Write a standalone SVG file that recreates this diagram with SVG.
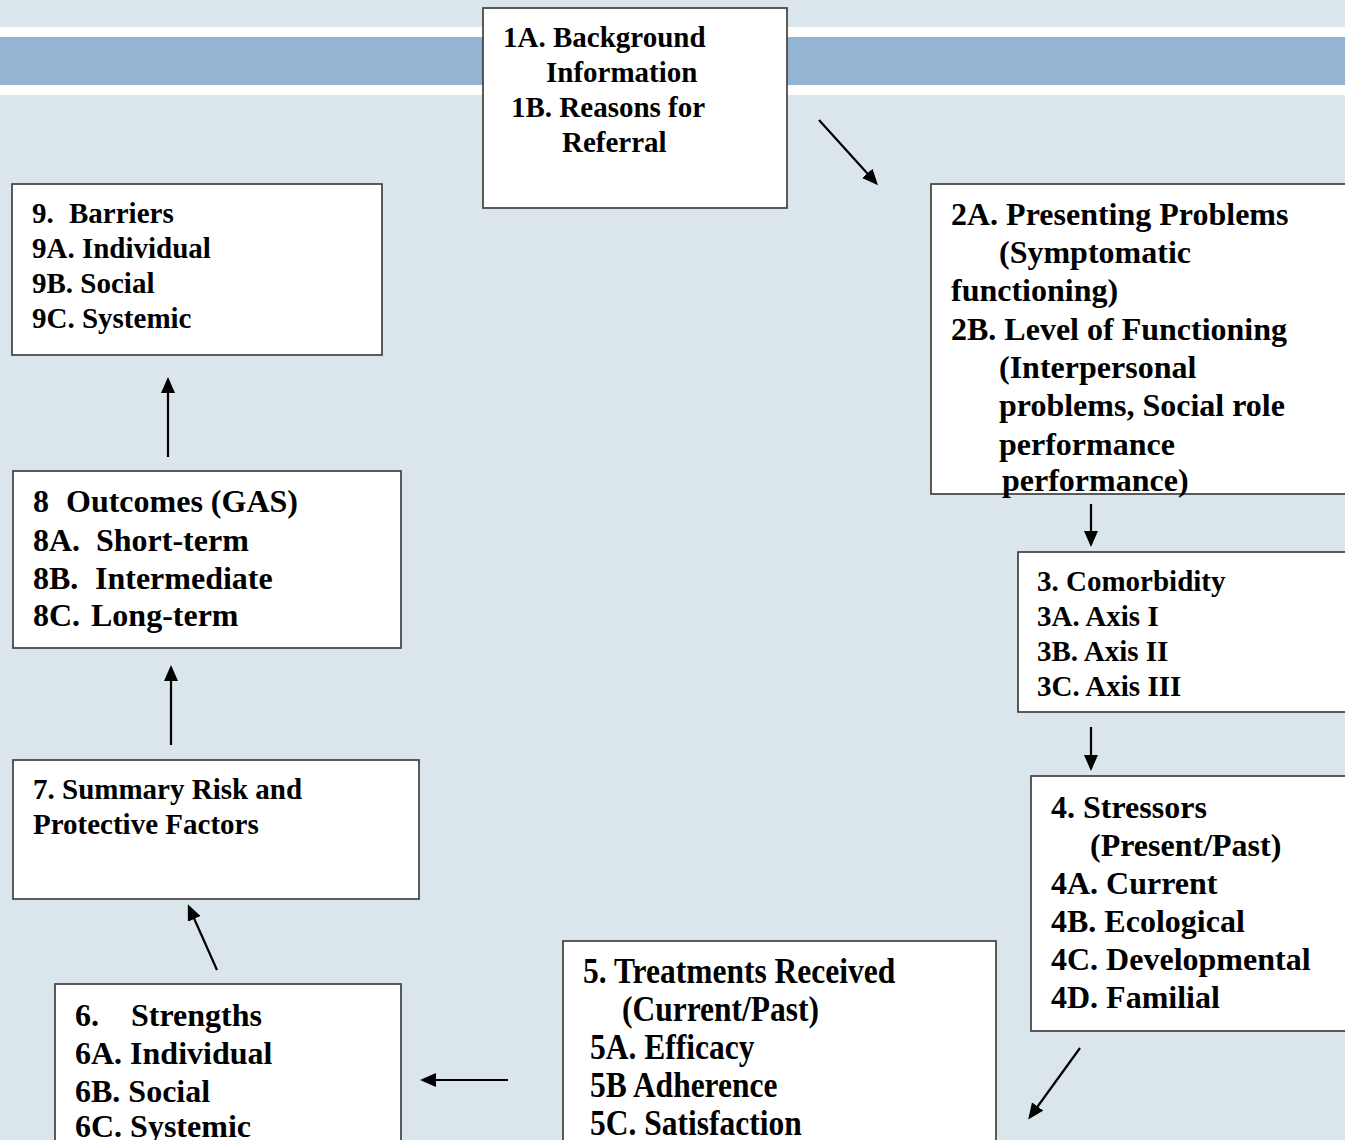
<svg xmlns="http://www.w3.org/2000/svg" width="1345" height="1140" viewBox="0 0 1345 1140">
<style>
.box{fill:#ffffff;stroke:#404040;stroke-width:1.7}
.t{font-family:"Liberation Serif","Times New Roman",serif;font-weight:bold;fill:#000}
.s29{font-size:29px}
.s32{font-size:32px}
.s35{font-size:35px}
.conn line{stroke:#000;stroke-width:2.2;marker-end:url(#ah)}
</style>
<defs>
<marker id="ah" viewBox="0 0 16 14" refX="13" refY="7" markerWidth="16" markerHeight="14" markerUnits="userSpaceOnUse" orient="auto">
<path d="M0,0 L16,7 L0,14 z" fill="#000"/>
</marker>
</defs>
<rect x="0" y="0" width="1345" height="1140" fill="#dbe5ec"/>
<rect x="0" y="27" width="1345" height="10" fill="#ffffff"/>
<rect x="0" y="37" width="1345" height="48" fill="#94b5d2"/>
<rect x="0" y="85" width="1345" height="10" fill="#ffffff"/>

<g id="node1">
<rect class="box" x="483" y="8" width="304" height="200"/>
<text class="t s29" x="503" y="47">1A. Background</text>
<text class="t s29" x="546" y="82">Information</text>
<text class="t s29" x="511" y="117">1B. Reasons for</text>
<text class="t s29" x="562" y="152">Referral</text>
</g>

<g id="node2">
<rect class="box" x="931" y="184" width="430" height="310"/>
<text class="t s32" x="951" y="225">2A. Presenting Problems</text>
<text class="t s32" x="999" y="263">(Symptomatic</text>
<text class="t s32" x="951" y="301">functioning)</text>
<text class="t s32" x="951" y="340">2B. Level of Functioning</text>
<text class="t s32" x="999" y="378">(Interpersonal</text>
<text class="t s32" x="999" y="416">problems, Social role</text>
<text class="t s32" x="999" y="455">performance</text>
<text class="t s32" x="1002" y="491">performance)</text>
</g>

<g id="node3">
<rect class="box" x="1018" y="552" width="340" height="160"/>
<text class="t s29" x="1037" y="591">3. Comorbidity</text>
<text class="t s29" x="1037" y="626">3A. Axis I</text>
<text class="t s29" x="1037" y="661">3B. Axis II</text>
<text class="t s29" x="1037" y="696">3C. Axis III</text>
</g>

<g id="node4">
<rect class="box" x="1031" y="776" width="330" height="255"/>
<text class="t s32" x="1051" y="818">4. Stressors</text>
<text class="t s32" x="1090" y="856">(Present/Past)</text>
<text class="t s32" x="1051" y="894">4A. Current</text>
<text class="t s32" x="1051" y="932">4B. Ecological</text>
<text class="t s32" x="1051" y="970">4C. Developmental</text>
<text class="t s32" x="1051" y="1008">4D. Familial</text>
</g>

<g id="node5">
<rect class="box" x="563" y="941" width="433" height="220"/>
<text class="t s35" transform="translate(583,983) scale(0.9,1)">5. Treatments Received</text>
<text class="t s35" transform="translate(622,1021) scale(0.9,1)">(Current/Past)</text>
<text class="t s35" transform="translate(590,1059) scale(0.9,1)">5A. Efficacy</text>
<text class="t s35" transform="translate(590,1097) scale(0.9,1)">5B Adherence</text>
<text class="t s35" transform="translate(590,1135) scale(0.9,1)">5C. Satisfaction</text>
</g>

<g id="node6">
<rect class="box" x="55" y="984" width="346" height="180"/>
<text class="t s32" x="75" y="1026">6.</text>
<text class="t s32" x="131" y="1026">Strengths</text>
<text class="t s32" x="75" y="1064">6A. Individual</text>
<text class="t s32" x="75" y="1102">6B. Social</text>
<text class="t s32" x="75" y="1137">6C. Systemic</text>
</g>

<g id="node7">
<rect class="box" x="13" y="760" width="406" height="139"/>
<text class="t s29" x="33" y="799">7. Summary Risk and</text>
<text class="t s29" x="33" y="834">Protective Factors</text>
</g>

<g id="node8">
<rect class="box" x="13" y="471" width="388" height="177"/>
<text class="t s32" x="33" y="512">8</text>
<text class="t s32" x="66" y="512">Outcomes (GAS)</text>
<text class="t s32" x="33" y="551">8A.</text>
<text class="t s32" x="96" y="551">Short-term</text>
<text class="t s32" x="33" y="589">8B.</text>
<text class="t s32" x="95" y="589">Intermediate</text>
<text class="t s32" x="33" y="626">8C.</text>
<text class="t s32" x="91" y="626">Long-term</text>
</g>

<g id="node9">
<rect class="box" x="12" y="184" width="370" height="171"/>
<text class="t s29" x="32" y="223">9.</text>
<text class="t s29" x="69" y="223">Barriers</text>
<text class="t s29" x="32" y="258">9A. Individual</text>
<text class="t s29" x="32" y="293">9B. Social</text>
<text class="t s29" x="32" y="328">9C. Systemic</text>
</g>

<g id="connectors" class="conn">
<line x1="819" y1="120" x2="876" y2="183"/>
<line x1="1091" y1="504" x2="1091" y2="544"/>
<line x1="1091" y1="727" x2="1091" y2="768"/>
<line x1="1080" y1="1048" x2="1030" y2="1117"/>
<line x1="508" y1="1080" x2="423" y2="1080"/>
<line x1="217" y1="970" x2="189" y2="907"/>
<line x1="171" y1="745" x2="171" y2="668"/>
<line x1="168" y1="457" x2="168" y2="380"/>
</g>
</svg>
